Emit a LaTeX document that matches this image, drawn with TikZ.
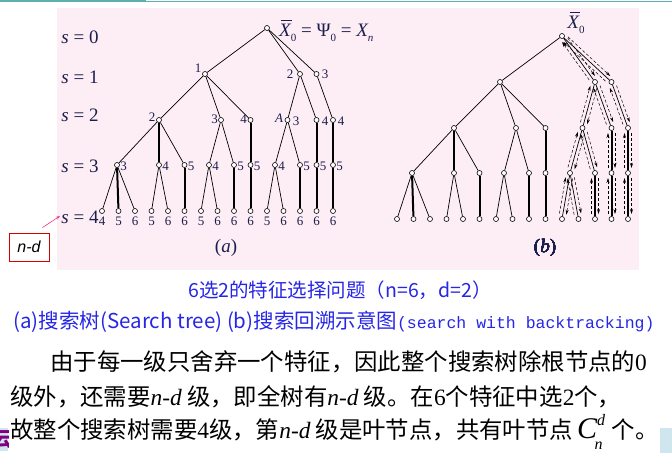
\documentclass[tikz,border=0pt]{standalone}
\usepackage[no-math]{fontspec}
\setmainfont{Liberation Serif}
\setmonofont{Liberation Mono}
\newfontfamily\cjk{Noto Sans CJK SC}
\newfontfamily\lsans{Liberation Sans}
\usetikzlibrary{arrows.meta,calc}
\definecolor{bgpink}{HTML}{FDEEF5}
\definecolor{labc}{HTML}{1E1E4E}
\definecolor{capblue}{HTML}{2626E6}
\definecolor{teal1}{HTML}{5FAFB0}
\definecolor{stripblue}{HTML}{CFE6EE}
\newcommand\lowsub[1]{\raisebox{-0.28em}{\fontsize{11}{11}\selectfont #1}}
\newcommand\xbar{\makebox[0pt][l]{\hspace{0.12em}\raisebox{0.78em}{\rule{0.55em}{0.05em}}}{\itshape X}}
\tikzset{
  nd/.style={circle, draw, fill=white, inner sep=0pt, minimum size=5pt, line width=0.6pt},
  ed/.style={line width=0.7pt},
  tk/.style={line width=2pt},
  lab/.style={font=\fontsize{13}{13}\selectfont, text=labc, inner sep=1pt},
  lvl/.style={font=\fontsize{19}{21}\selectfont, text=labc},
  btar/.style={densely dashed, line width=0.5pt, -{Stealth[length=5pt,width=3pt]}},
  para/.style={anchor=west, inner sep=0pt, font=\fontsize{23.4}{25}\selectfont},
  captext/.style={text=capblue, inner sep=0pt}
}
\newcommand\mytree[1]{%
  \node[nd] (#1-r) at (267,28) {};
  \node[nd] (#1-n1) at (205,74) {};
  \node[nd] (#1-n2) at (300,74) {};
  \node[nd] (#1-n3) at (316.5,74) {};
  \node[nd] (#1-n12) at (159,120) {};
  \node[nd] (#1-n13) at (221,120) {};
  \node[nd] (#1-n14) at (250.5,120) {};
  \node[nd] (#1-n23) at (287.5,120) {};
  \node[nd] (#1-n24) at (316.5,120) {};
  \node[nd] (#1-n34) at (333,120) {};
  \node[nd] (#1-n123) at (117,165) {};
  \node[nd] (#1-n124) at (159,165) {};
  \node[nd] (#1-n125) at (184.5,165) {};
  \node[nd] (#1-n134) at (209,165) {};
  \node[nd] (#1-n135) at (234,165) {};
  \node[nd] (#1-n145) at (250.5,165) {};
  \node[nd] (#1-n234) at (275,165) {};
  \node[nd] (#1-n235) at (300,165) {};
  \node[nd] (#1-n245) at (316.5,165) {};
  \node[nd] (#1-n345) at (333,165) {};
  \node[nd] (#1-n1234) at (102,211) {};
  \node[nd] (#1-n1235) at (118.5,211) {};
  \node[nd] (#1-n1236) at (135,211) {};
  \node[nd] (#1-n1245) at (151.5,211) {};
  \node[nd] (#1-n1246) at (168,211) {};
  \node[nd] (#1-n1256) at (184.5,211) {};
  \node[nd] (#1-n1345) at (201,211) {};
  \node[nd] (#1-n1346) at (217.5,211) {};
  \node[nd] (#1-n1356) at (234,211) {};
  \node[nd] (#1-n1456) at (250.5,211) {};
  \node[nd] (#1-n2345) at (267,211) {};
  \node[nd] (#1-n2346) at (283.5,211) {};
  \node[nd] (#1-n2356) at (300,211) {};
  \node[nd] (#1-n2456) at (316.5,211) {};
  \node[nd] (#1-n3456) at (333,211) {};
  \foreach \p/\c in {r/n1, r/n2, r/n3, n1/n12, n1/n13, n1/n14, n2/n23, n2/n24, n3/n34,
      n12/n123, n12/n125, n13/n134, n13/n135, n23/n234, n23/n235,
      n123/n1234, n123/n1236, n124/n1245, n124/n1246, n134/n1345, n134/n1346,
      n234/n2345, n234/n2346}
    \draw[ed] (#1-\p) -- (#1-\c);
  \foreach \p/\c in {n12/n124, n14/n145, n24/n245, n34/n345, n123/n1235, n125/n1256,
      n135/n1356, n145/n1456, n235/n2356, n245/n2456, n345/n3456}
    \draw[tk] (#1-\p) -- (#1-\c);
}
\newcommand\btpair[2]{%
  \draw[btar] ($($(#1)!5pt!(#2)$)!3.5pt!90:(#2)$) -- ($($(#2)!5pt!(#1)$)!3.5pt!-90:(#1)$);
  \draw[btar] ($($(#2)!5pt!(#1)$)!3.5pt!90:(#1)$) -- ($($(#1)!5pt!(#2)$)!3.5pt!-90:(#2)$);
}
\begin{document}
\begin{tikzpicture}[x=1pt,y=-1pt]
\useasboundingbox (0,0) rectangle (672,453);
\fill[white] (0,0) rectangle (672,453);
% top rule
\fill[teal1] (0,0) rectangle (146,2);
\draw[teal1, line width=0.8pt] (0,1.6) -- (672,1.6);
% pink panel
\fill[bgpink] (57,8) rectangle (639,270);
% level labels
\node[lvl] (s0) at (80,37) {{\itshape s} = 0};
\node[lvl] (s1) at (80,77) {{\itshape s} = 1};
\node[lvl] (s2) at (80,115) {{\itshape s} = 2};
\node[lvl] (s3) at (80,166) {{\itshape s} = 3};
\node[lvl] (s4) at (80,217) {{\itshape s} = 4};
% tree (a)
\mytree{a}
\node[lvl, anchor=west, inner sep=0pt] (rootlab) at (279,31) {\xbar\lowsub{0} = Ψ\lowsub{0} = {\itshape X}\lowsub{\itshape n}};
\node[lab] at (198,68) {1};
\node[lab] at (290,74) {2};
\node[lab] at (325,74) {3};
\node[lab] at (152,117) {2};
\node[lab] at (214.5,119) {3};
\node[lab] at (243.5,119) {4};
\node[lab] at (279,118) {\itshape A};
\node[lab] at (296,121) {3};
\node[lab] at (325,121) {4};
\node[lab] at (341,121) {4};
\foreach \n/\t in {n123/3, n124/4, n125/5, n134/4, n135/5, n145/5, n234/4, n235/5, n245/5, n345/5}
  \node[lab, anchor=west] at ($(a-\n)+(2.2,1)$) {\t};
\foreach \n/\t in {n1234/4, n1235/5, n1236/6, n1245/5, n1246/6, n1256/6, n1345/5, n1346/6, n1356/6, n1456/6, n2345/5, n2346/6, n2356/6, n2456/6, n3456/6}
  \node[lab] at ($(a-\n)+(0,10)$) {\t};
\node[lvl] (lbla) at (226,248) {(\textit{a})};
% tree (b)
\begin{scope}[shift={(295,8)}]
\mytree{b}
\end{scope}
\node[lvl, inner sep=0pt] (rootlabb) at (576,23) {\xbar\lowsub{0}};
\foreach \p/\c in {r/n2, r/n3, n2/n23, n2/n24, n3/n34, n23/n234, n23/n235, n24/n245, n34/n345,
    n234/n2345, n234/n2346, n235/n2356, n245/n2456, n345/n3456}
  \btpair{b-\p}{b-\c}
\node[lvl] (lblb) at (545,248) {(\textit{b})};
% n-d box
\node[draw=red!85!black, fill=white, line width=0.8pt, minimum width=40pt, minimum height=28pt, inner sep=0pt,
  font=\lsans\itshape\fontsize{16}{16}\selectfont] (nd) at (29,247) {n-d};
\coordinate (ndtip) at (60,216);
\draw[-{Stealth[length=4pt,width=3pt]}, color=magenta!70!red!80, line width=0.6pt] (nd.north east) ++(-7,-5) -- (ndtip);
% captions
\node[captext, font=\fontsize{19.5}{21}\selectfont] (cap1) at (340,290) {\cjk 6选2的特征选择问题（n=6，d=2）};
\node[captext, font=\fontsize{20.5}{22}\selectfont] (cap2) at (334,322) {{\cjk (a)搜索树(Search tree) (b)搜索回溯示意图}{\ttfamily\fontsize{16.5}{18}\selectfont (search with backtracking)}};
% paragraph
\node[para] (p1) at (50,362) {\cjk 由于每一级只舍弃一个特征，因此整个搜索树除根节点的{\rmfamily 0}};
\node[para] (p2) at (10,397) {\cjk 级外，还需要{\rmfamily\itshape n-d} 级，即全树有{\rmfamily\itshape n-d} 级。在{\rmfamily 6}个特征中选{\rmfamily 2}个，};
\node[para] (p3) at (10,432) {\cjk 故整个搜索树需要{\rmfamily 4}级，第{\rmfamily\itshape n-d} 级是叶节点，共有叶节点\,{\rmfamily\itshape\fontsize{30}{30}\selectfont C}\raisebox{0.55em}{\rmfamily\itshape\fontsize{16}{16}\selectfont d}\kern-0.45em\raisebox{-0.45em}{\rmfamily\itshape\fontsize{16}{16}\selectfont n}\, 个。};
% side strips
\fill[stripblue] (660,428) rectangle (672,453);
\begin{scope}
\clip (0,428) rectangle (8,451);
\fill[stripblue] (0,428) rectangle (8,451);
\node[text=violet, inner sep=0pt, font=\cjk\bfseries\fontsize{20}{20}\selectfont] (frag) at (2,440) {云};
\end{scope}
\end{tikzpicture}
\end{document}
